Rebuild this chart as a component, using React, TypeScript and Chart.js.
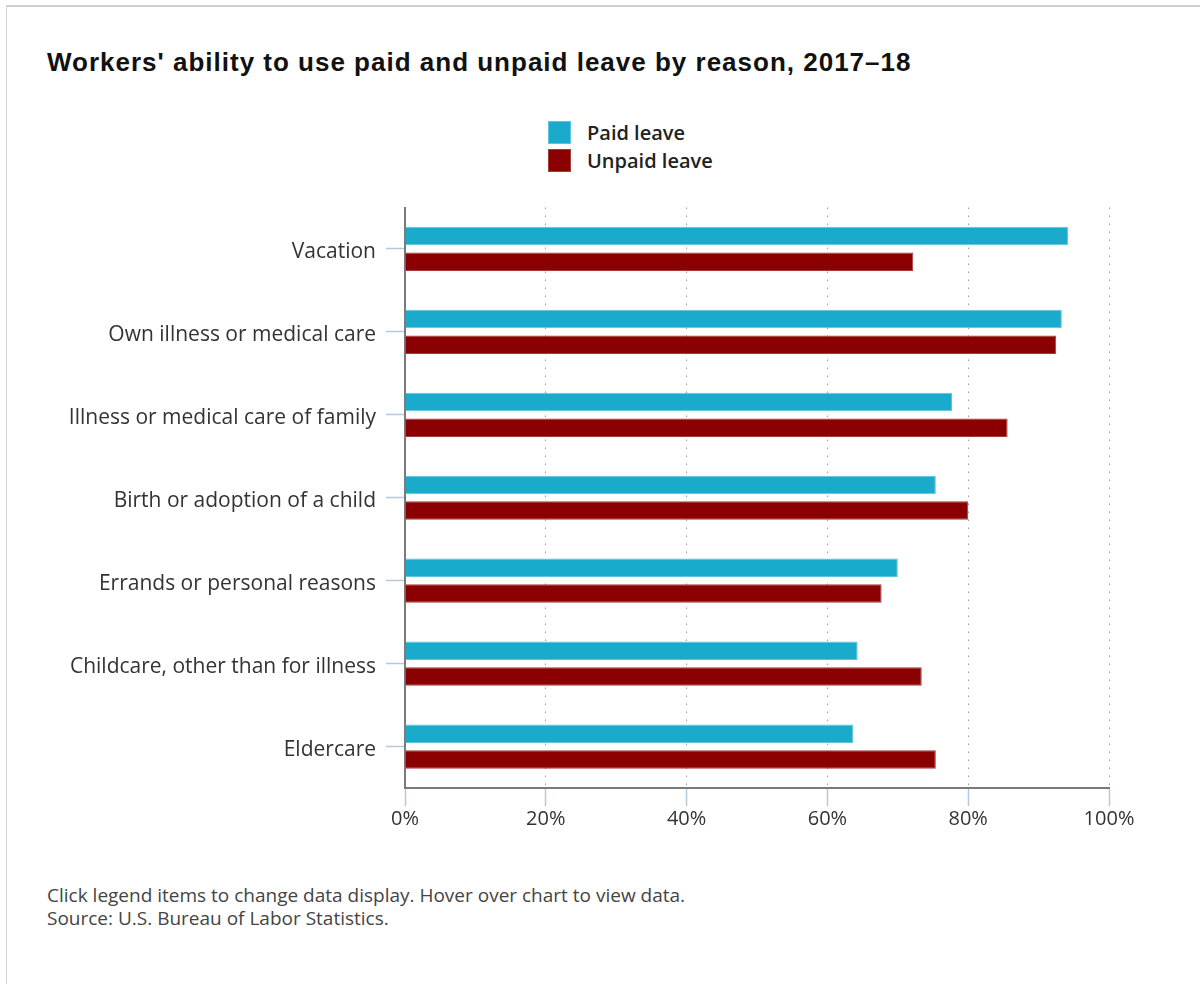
import React, { useEffect, useRef } from "react";
import { Chart, registerables } from "chart.js";

Chart.register(...registerables);

const titleText = "Workers' ability to use paid and unpaid leave by reason, 2017–18";
const categories = [
  "Vacation",
  "Own illness or medical care",
  "Illness or medical care of family",
  "Birth or adoption of a child",
  "Errands or personal reasons",
  "Childcare, other than for illness",
  "Eldercare",
];
const seriesNames = ["Paid leave", "Unpaid leave"];
const paidLeave = [94.2, 93.3, 77.7, 75.4, 70.0, 64.3, 63.7];
const unpaidLeave = [72.2, 92.5, 85.6, 80.0, 67.7, 73.4, 75.4];
const xTickValues = [0, 20, 40, 60, 80, 100];
const footnotes = [
  "Click legend items to change data display. Hover over chart to view data.",
  "Source: U.S. Bureau of Labor Statistics.",
];

const fills = ["#19aacc", "#8b0000"];
const borders = ["#5cc6e0", "#a83a3a"];

export default function App() {
  const canvasRef = useRef<HTMLCanvasElement | null>(null);

  useEffect(() => {
    const canvas = canvasRef.current;
    if (!canvas) return;
    const chart = new Chart(canvas, {
      type: "bar",
      data: {
        labels: categories,
        datasets: [
          {
            label: seriesNames[0],
            data: paidLeave,
            backgroundColor: fills[0],
            borderColor: borders[0],
            borderWidth: 1,
            categoryPercentage: 0.62,
            barPercentage: 0.72,
          },
          {
            label: seriesNames[1],
            data: unpaidLeave,
            backgroundColor: fills[1],
            borderColor: borders[1],
            borderWidth: 1,
            categoryPercentage: 0.62,
            barPercentage: 0.72,
          },
        ],
      },
      options: {
        indexAxis: "y",
        animation: false,
        responsive: false,
        maintainAspectRatio: false,
        layout: { padding: { top: 17.5, right: 91, bottom: 0, left: 0 } },
        plugins: {
          legend: { display: false },
          title: { display: false },
          tooltip: { enabled: true },
        },
        scales: {
          x: {
            type: "linear",
            min: 0,
            max: 100,
            afterBuildTicks: (scale: any) => {
              scale.ticks = xTickValues.map((v) => ({ value: v }));
            },
            afterFit: (scale: any) => {
              scale.height = 62;
              scale.paddingLeft = 0;
              scale.paddingRight = 0;
            },
            ticks: {
              callback: (v: any) => `${v}%`,
              color: "#333",
              font: { family: "'Open Sans'", size: 20 },
              padding: 1,
              maxRotation: 0,
            },
            grid: {
              color: (ctx: any) => (ctx.tick && ctx.tick.value === 0 ? "rgba(0,0,0,0)" : "#9a9a9a"),
              lineWidth: 1,
              drawTicks: true,
              tickLength: 18,
              tickColor: "#b3c9e2",
              tickWidth: 1.5,
            },
            border: { display: true, color: "#7a7a7a", width: 2, dash: [1.5, 6.5] },
          },
          y: {
            type: "category",
            afterFit: (scale: any) => {
              scale.width = 405;
              scale.paddingTop = 0;
              scale.paddingBottom = 0;
            },
            ticks: {
              color: "#333",
              font: { family: "'Open Sans'", size: 21 },
              padding: 10,
              labelOffset: 3,
              autoSkip: false,
            },
            grid: {
              offset: false,
              drawOnChartArea: false,
              drawTicks: true,
              tickLength: 19,
              tickColor: "#b3c9e2",
              tickWidth: 1.5,
            },
            border: { display: true, color: "#7a7a7a", width: 2 },
          },
        },
      },
    });
    return () => chart.destroy();
  }, []);

  return (
    <div
      style={{
        position: "absolute",
        left: 0,
        top: 0,
        width: 1200,
        height: 984,
        overflow: "hidden",
        background: "#fff",
      }}
    >
      <div
        style={{
          position: "absolute",
          left: 6,
          top: 5,
          width: 1300,
          height: 1100,
          borderTop: "2px solid #cfcfcf",
          borderLeft: "1px solid #d6d6d6",
        }}
      />
      <div
        style={{
          position: "absolute",
          left: 47,
          top: 47,
          fontFamily: "'Liberation Sans', Arial, sans-serif",
          fontWeight: 700,
          fontSize: 26,
          letterSpacing: "1px",
          lineHeight: "30px",
          color: "#111",
          whiteSpace: "nowrap",
        }}
      >
        {titleText}
      </div>
      {seriesNames.map((name, i) => (
        <div
          key={name}
          style={{
            position: "absolute",
            left: 548,
            top: 121 + i * 28,
            height: 23,
            display: "flex",
            alignItems: "center",
            whiteSpace: "nowrap",
          }}
        >
          <div
            style={{
              width: 21,
              height: 21,
              background: fills[i],
              border: `1px solid ${borders[i]}`,
            }}
          />
          <span
            style={{
              marginLeft: 16,
              fontFamily: "'Open Sans', sans-serif",
              fontWeight: 600,
              fontSize: 20,
              color: "#222",
            }}
          >
            {name}
          </span>
        </div>
      ))}
      <canvas
        ref={canvasRef}
        width={1200}
        height={660}
        style={{ position: "absolute", left: 0, top: 190, width: 1200, height: 660 }}
      />
      <div
        style={{
          position: "absolute",
          left: 47,
          top: 884,
          fontFamily: "'Open Sans', sans-serif",
          fontSize: 19,
          lineHeight: "23px",
          color: "#444",
          whiteSpace: "nowrap",
        }}
      >
        {footnotes.map((f) => (
          <div key={f}>{f}</div>
        ))}
      </div>
    </div>
  );
}
